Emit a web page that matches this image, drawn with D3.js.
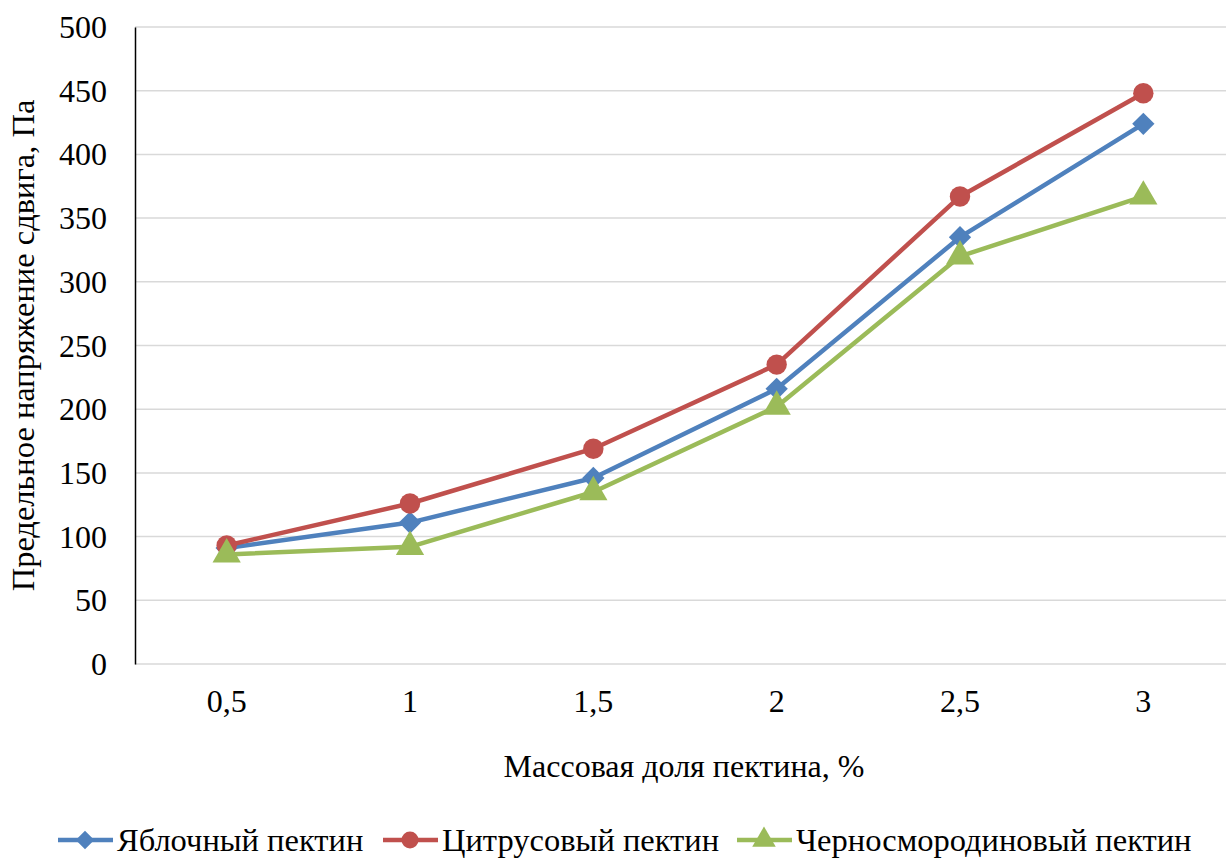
<!DOCTYPE html>
<html>
<head>
<meta charset="utf-8">
<script src="https://cdn.jsdelivr.net/npm/d3@7"></script>
<style>
  html, body { margin: 0; padding: 0; background: #fff; }
  svg { display: block; }
</style>
</head>
<body>
<div id="chart"></div>
<script>
// данные
const categories = ["0,5", "1", "1,5", "2", "2,5", "3"];
const seriesNames = ["Яблочный пектин", "Цитрусовый пектин", "Черносмородиновый пектин"];
const appleValues = [91, 111, 146, 216, 335, 424];
const citrusValues = [93, 126, 169, 235, 367, 448];
const currantValues = [86, 92, 135, 202, 320, 367];
const yTicks = [0, 50, 100, 150, 200, 250, 300, 350, 400, 450, 500];

const width = 1226, height = 859;
const margin = { top: 27, left: 135, bottom: 195 };
const plotRight = 1235; // область построения чуть обрезана справа
const fontFamily = "'Liberation Serif', 'Times New Roman', Times, serif";

const colors = ["#4F81BD", "#C0504D", "#9BBB59"];
const markers = ["diamond", "circle", "triangle"];
const seriesValues = [appleValues, citrusValues, currantValues];

const svg = d3.select("#chart").append("svg")
    .attr("width", width)
    .attr("height", height)
    .style("font-family", fontFamily);

const x = d3.scaleBand()
    .domain(categories)
    .range([margin.left, plotRight]);

const y = d3.scaleLinear()
    .domain([0, 500])
    .range([height - margin.bottom, margin.top]);

// сетка
svg.append("g")
    .selectAll("line")
    .data(yTicks)
    .enter().append("line")
    .attr("x1", margin.left)
    .attr("x2", plotRight)
    .attr("y1", d => y(d))
    .attr("y2", d => y(d))
    .attr("stroke", "#d9d9d9")
    .attr("stroke-width", 1.5);

// ось Y
const yAxis = svg.append("g")
    .attr("transform", `translate(${margin.left},0)`)
    .call(d3.axisLeft(y).tickValues(yTicks).tickSize(0).tickPadding(28));
yAxis.attr("font-family", null).attr("font-size", null);
yAxis.select(".domain").attr("stroke", "#000").attr("stroke-width", 1.5);
yAxis.selectAll("text")
    .style("font-family", fontFamily)
    .attr("fill", "#000")
    .attr("font-size", 32)
    .attr("dy", "0.33em");

// ось X
const xAxis = svg.append("g")
    .attr("transform", `translate(0,${y(0)})`)
    .call(d3.axisBottom(x).tickSize(0).tickPadding(25));
xAxis.attr("font-family", null).attr("font-size", null);
xAxis.select(".domain").remove();
xAxis.selectAll("text")
    .style("font-family", fontFamily)
    .attr("fill", "#000")
    .attr("font-size", 32);

// подписи осей
svg.append("text")
    .attr("x", 684)
    .attr("y", 777)
    .attr("text-anchor", "middle")
    .attr("font-size", 32)
    .style("font-family", fontFamily)
    .text("Массовая доля пектина, %");

svg.append("text")
    .attr("transform", `translate(34,${(y(0) + y(500)) / 2}) rotate(-90)`)
    .attr("text-anchor", "middle")
    .attr("font-size", 32.5)
    .style("font-family", fontFamily)
    .text("Предельное напряжение сдвига, Па");

// маркеры
function drawMarker(g, type, color, size) {
    if (type === "circle") {
        g.append("circle").attr("r", size * 0.85).attr("fill", color);
    } else if (type === "diamond") {
        g.append("path")
            .attr("d", d3.symbol().type(d3.symbolDiamond2).size(size * size * 2.2)())
            .attr("fill", color);
    } else {
        g.append("path")
            .attr("d", d3.symbol().type(d3.symbolTriangle).size(size * size * 2.4)())
            .attr("fill", color);
    }
}

const line = d3.line()
    .x((d, i) => x(categories[i]) + x.bandwidth() / 2)
    .y(d => y(d));

seriesValues.forEach((vals, s) => {
    svg.append("path")
        .datum(vals)
        .attr("d", line)
        .attr("fill", "none")
        .attr("stroke", colors[s])
        .attr("stroke-width", 4.5)
        .attr("stroke-linejoin", "round");

    svg.append("g")
        .selectAll("g")
        .data(vals)
        .enter().append("g")
        .attr("transform", (d, i) => `translate(${x(categories[i]) + x.bandwidth() / 2},${y(d)})`)
        .each(function () { drawMarker(d3.select(this), markers[s], colors[s], 12); });
});

// легенда
const legendY = 840;
const legendX = [58, 383, 737];
seriesNames.forEach((name, s) => {
    const g = svg.append("g").attr("transform", `translate(${legendX[s]},${legendY})`);
    g.append("line")
        .attr("x1", 0).attr("x2", 55)
        .attr("stroke", colors[s]).attr("stroke-width", 4.5);
    const m = g.append("g").attr("transform", "translate(27,0)");
    drawMarker(m, markers[s], colors[s], 10);
    g.append("text")
        .attr("x", 59)
        .attr("dy", "0.35em")
        .attr("font-size", 32.5)
        .style("font-family", fontFamily)
        .text(name);
});
</script>
</body>
</html>
